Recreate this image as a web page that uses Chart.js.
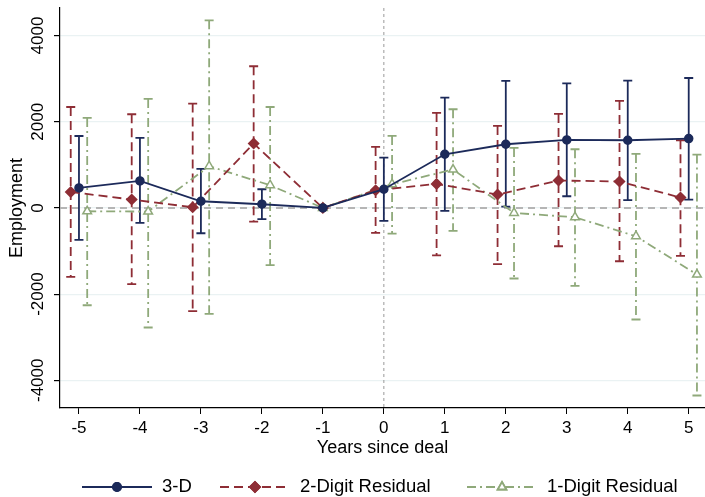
<!DOCTYPE html>
<html>
<head>
<meta charset="utf-8">
<script src="https://cdn.jsdelivr.net/npm/chart.js@4.4.0/dist/chart.umd.min.js"></script>
<style>
html, body { margin: 0; padding: 0; background: #fff; }
#wrap { width: 705px; height: 497px; }
</style>
</head>
<body>
<div id="wrap"><canvas id="chart" width="705" height="497"></canvas></div>
<script>
// data
const years = [-5, -4, -3, -2, -1, 0, 1, 2, 3, 4, 5];
const yTicks = [-4000, -2000, 0, 2000, 4000];
const seriesNames = ['3-D', '2-Digit Residual', '1-Digit Residual'];

const est3D = [464, 626, 155, 86, 0, 434, 1246, 1478, 1578, 1571, 1610];
const lo3D  = [-742, -348, -587, -262, null, -302, -70, 32, 271, 179, 195];
const hi3D  = [1670, 1624, 905, 434, null, 1169, 2561, 2947, 2893, 2956, 3016];

const est2D = [371, 195, 16, 1494, 0, 411, 557, 311, 636, 613, 241];
const lo2D  = [-1601, -1770, -2397, -316, null, -580, -1100, -1306, -889, -1237, -1114];
const hi2D  = [2343, 2174, 2422, 3288, null, 1415, 2204, 1903, 2181, 2483, 1571];

const est1D = [-77, -84, 968, 527, 0, 550, 891, -116, -216, -657, -1545];
const lo1D  = [-2258, -2775, -2459, -1329, null, -594, -534, -1638, -1810, -2589, -4353];
const hi1D  = [2088, 2529, 4355, 2343, null, 1671, 2290, 1392, 1362, 1253, 1239];

const FONT = "'Liberation Sans', Arial, Helvetica, sans-serif";
const baseYear = -1;

function pts(est, shift) {
	return years.map((yr, i) => ({ x: yr === baseYear ? yr : yr + shift, y: est[i] }));
}

const styles = [
	{ color: '#1c2a5a', dash: [], shift: 0, point: 'circle', radius: 4, fill: '#1c2a5a', lo: lo3D, hi: hi3D, est: est3D },
	{ color: '#8e2d35', dash: [9, 5], shift: -0.135, point: 'rectRot', radius: 5, fill: '#8e2d35', lo: lo2D, hi: hi2D, est: est2D },
	{ color: '#8fa97a', dash: [9, 4, 2, 4], shift: 0.135, point: 'triangle', radius: 5, fill: '#ffffff', lo: lo1D, hi: hi1D, est: est1D }
];

// error bars, reference lines, rotated labels and legend
const extras = {
	id: 'extras',
	beforeDatasetsDraw(chart) {
		const ctx = chart.ctx, xs = chart.scales.x, ys = chart.scales.y, a = chart.chartArea;
		ctx.save();
		// reference lines
		ctx.strokeStyle = '#b5b5b5'; ctx.lineWidth = 2; ctx.setLineDash([7, 5]);
		ctx.beginPath(); ctx.moveTo(a.left, ys.getPixelForValue(0)); ctx.lineTo(a.right, ys.getPixelForValue(0)); ctx.stroke();
		ctx.strokeStyle = '#9a9a9a'; ctx.lineWidth = 1; ctx.setLineDash([3, 3]);
		ctx.beginPath(); ctx.moveTo(xs.getPixelForValue(0), a.top); ctx.lineTo(xs.getPixelForValue(0), a.bottom); ctx.stroke();
		// confidence intervals
		styles.forEach(s => {
			years.forEach((yr, i) => {
				if (s.lo[i] === null) return;
				const x = xs.getPixelForValue(yr === baseYear ? yr : yr + s.shift);
				const y1 = ys.getPixelForValue(s.lo[i]), y2 = ys.getPixelForValue(s.hi[i]);
				ctx.strokeStyle = s.color; ctx.lineWidth = 1.8;
				ctx.setLineDash(s.dash);
				ctx.beginPath(); ctx.moveTo(x, y2); ctx.lineTo(x, y1); ctx.stroke();
				ctx.setLineDash([]);
				ctx.beginPath();
				ctx.moveTo(x - 4.5, y1); ctx.lineTo(x + 4.5, y1);
				ctx.moveTo(x - 4.5, y2); ctx.lineTo(x + 4.5, y2);
				ctx.stroke();
			});
		});
		ctx.restore();
	},
	afterDraw(chart) {
		const ctx = chart.ctx, ys = chart.scales.y, a = chart.chartArea;
		ctx.save();
		ctx.fillStyle = '#000';
		ctx.textAlign = 'center'; ctx.textBaseline = 'middle';
		// y tick labels, rotated like the original
		ctx.font = '17px ' + FONT;
		yTicks.forEach(v => {
			ctx.save();
			ctx.translate(38, ys.getPixelForValue(v));
			ctx.rotate(-Math.PI / 2);
			ctx.fillText(String(v), 0, 0);
			ctx.restore();
		});
		ctx.font = '18px ' + FONT;
		ctx.save();
		ctx.translate(17, (a.top + a.bottom) / 2);
		ctx.rotate(-Math.PI / 2);
		ctx.fillText('Employment', 0, 0);
		ctx.restore();
		ctx.fillText('Years since deal', (a.left + a.right) / 2, 448);
		// legend
		const legendX = [82, 220, 467];
		ctx.font = '18.5px ' + FONT;
		ctx.textAlign = 'left';
		styles.forEach((s, k) => {
			const x0 = legendX[k], y = 487;
			ctx.strokeStyle = s.color; ctx.lineWidth = 1.8; ctx.setLineDash(s.dash);
			ctx.beginPath(); ctx.moveTo(x0, y); ctx.lineTo(x0 + 70, y); ctx.stroke();
			ctx.setLineDash([]);
			Chart.helpers.drawPoint(ctx, { pointStyle: s.point, radius: s.radius, borderWidth: 1.5 }, x0 + 35, y);
			ctx.fillStyle = s.fill; ctx.strokeStyle = s.color;
			ctx.fill(); ctx.stroke();
			ctx.fillStyle = '#000';
			ctx.fillText(seriesNames[k], x0 + 80, y);
		});
		ctx.restore();
	}
};

const config = {
	type: 'line',
	data: {
		datasets: styles.map((s, k) => ({
			label: seriesNames[k],
			data: pts(s.est, s.shift),
			borderColor: s.color,
			backgroundColor: s.fill,
			borderWidth: 1.8,
			borderDash: s.dash,
			pointStyle: s.point,
			pointRadius: s.radius,
			pointBackgroundColor: s.fill,
			pointBorderColor: s.color,
			pointBorderWidth: 1.5,
			tension: 0
		}))
	},
	options: {
		responsive: false,
		animation: false,
		devicePixelRatio: 1,
		layout: { autoPadding: false, padding: { top: 8, right: 0, left: 0, bottom: 0 } },
		plugins: { legend: { display: false }, tooltip: { enabled: false } },
		scales: {
			x: {
				type: 'linear',
				min: -5.311,
				max: 5.267,
				afterBuildTicks: sc => { sc.ticks = years.map(v => ({ value: v })); },
				afterFit: sc => { sc.height = 89; },
				grid: { drawOnChartArea: false, drawTicks: true, tickLength: 6, color: '#000', lineWidth: 1 },
				border: { display: true, color: '#000', width: 1.2 },
				ticks: { color: '#000', padding: 4, maxRotation: 0, font: { family: FONT, size: 17 } }
			},
			y: {
				min: -4643,
				max: 4640,
				afterBuildTicks: sc => { sc.ticks = yTicks.map(v => ({ value: v })); },
				afterFit: sc => { sc.width = 60; },
				grid: { color: '#eaf2f3', lineWidth: 1.2, tickColor: '#000', tickLength: 6 },
				border: { display: true, color: '#000', width: 1.2 },
				ticks: { display: false }
			}
		}
	},
	plugins: [extras]
};

new Chart(document.getElementById('chart').getContext('2d'), config);
</script>
</body>
</html>
